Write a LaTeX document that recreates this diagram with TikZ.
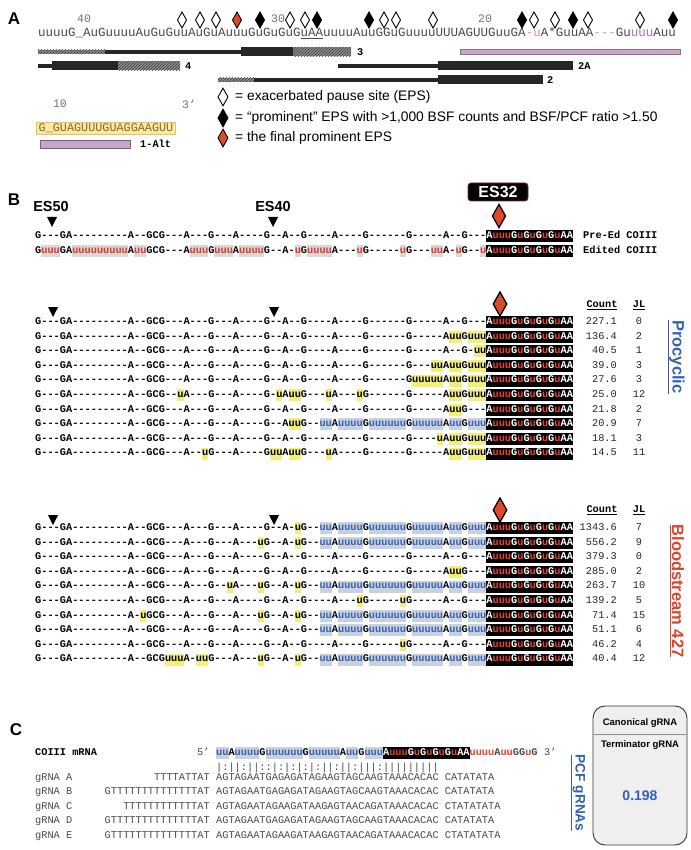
\documentclass[tikz,border=0pt]{standalone}
\usepackage{fontspec}
\setmainfont{Liberation Sans}
\newfontfamily\seqfont[Ligatures=TeXOff]{Liberation Mono}
\usetikzlibrary{patterns}
\definecolor{boxred}{HTML}{E8412C}
\definecolor{hlyel}{HTML}{F2EE78}
\definecolor{hlgray}{HTML}{D8D8D8}
\definecolor{bluebg}{HTML}{C9D1DD}
\definecolor{bluetx}{HTML}{3A62B4}
\definecolor{edred}{HTML}{E3362C}
\definecolor{seqgray}{HTML}{4A4A4A}
\definecolor{purpbar}{HTML}{C8A4CA}
\definecolor{purptx}{HTML}{B070B0}
\definecolor{pinktx}{HTML}{D98ACD}
\definecolor{pcblue}{HTML}{3461B0}
\definecolor{bsred}{HTML}{D9452F}
\definecolor{epsred}{HTML}{DC4A2E}
\definecolor{yelbox}{HTML}{FBE8A6}
\definecolor{yelline}{HTML}{E6C35C}
\definecolor{yeltx}{HTML}{7E6E28}
\definecolor{panelgray}{HTML}{EFEFEF}
\newcommand\seqY[1]{{\setlength\fboxsep{0pt}\colorbox{hlyel}{\strut\color{black}#1}}}
\newcommand\seqB[1]{{\setlength\fboxsep{0pt}\colorbox{bluebg}{\strut\color{bluetx}#1}}}
\newcommand\seqE[1]{{\setlength\fboxsep{0pt}\colorbox{hlgray}{\strut\color{edred}#1}}}
\newcommand\seqR[1]{\textcolor{boxred}{#1}}
\newcommand\seqBox{{\setlength\fboxsep{0pt}\colorbox{black}{\strut\color{white}A\seqR{uuu}G\seqR{u}G\seqR{u}G\seqR{u}G\seqR{u}AA}}}
\newcommand\seqBlue{\seqB{uu}A\seqB{uuuu}G\seqB{uuuuuu}G\seqB{uuuuu}A\seqB{uu}G\seqB{uuu}}
\tikzset{
  dmd/.pic={\path[pic actions] (0,-8) -- (4.5,0) -- (0,8) -- (-4.5,0) -- cycle;},
  tridown/.pic={\fill (-5,-5) -- (5,-5) -- (0,5) -- cycle;},
  epso/.style={draw=black,fill=white,line width=0.9},
  epsb/.style={draw=black,fill=black,line width=0.9},
  epsr/.style={draw=black,fill=epsred,line width=0.9},
  hatch/.style={fill=black!45,postaction={pattern=north east lines,pattern color=black!75}},
}
\begin{document}
\begin{tikzpicture}[x=1pt,y=-1pt,
  seqtxt/.style={anchor=base west,inner sep=0pt,font={\seqfont\bfseries\fontsize{10.3}{12}\selectfont}},
  grnatxt/.style={anchor=base west,inner sep=0pt,text=seqgray,font={\seqfont\fontsize{10.3}{12}\selectfont}},
  numtxt/.style={inner sep=0pt,text=black!85,font={\seqfont\fontsize{10.3}{12}\selectfont}},
  hdtxt/.style={inner sep=0pt,font={\seqfont\bfseries\fontsize{10.3}{12}\selectfont}},
  lbl/.style={inner sep=0pt,font={\bfseries\fontsize{17}{20}\selectfont}},
  esl/.style={inner sep=0pt,font={\bfseries\fontsize{14.5}{17}\selectfont}},
  lgd/.style={anchor=west,inner sep=0pt,font={\fontsize{13.8}{16}\selectfont}},
  barlbl/.style={anchor=west,inner sep=0pt,font={\seqfont\bfseries\fontsize{10.3}{12}\selectfont}}]
\fill[white] (0,0) rectangle (690,850);
\useasboundingbox (0,0) rectangle (690,850);

\node[lbl] (pA) at (14,19) {A};
\foreach \x/\n in {84/40,278/30,485/20}
  \node[inner sep=0pt,text=black!55,font={\seqfont\fontsize{11.5}{13}\selectfont}] (num\n) at (\x,19) {\n};
\foreach \x in {182,200,216,290,305,384,396,433,534,555,588,640} \pic[epso] at (\x,20) {dmd};
\foreach \x in {260,317,369,522,573,673} \pic[epsb] at (\x,20) {dmd};
\pic[epsr] at (237,20) {dmd};
\node[anchor=base west,inner sep=0pt,text=seqgray,font={\seqfont\fontsize{12.5}{14}\selectfont}] (topseq) at (38,37)
  {uuuuG\_AuGuuuuAuGuGuuAuGuAuuuGuGuGuG\underline{uAA}uuuuAuuGGuGuuuuUUUAGUUGuuGA\textcolor{pinktx}{-u}A*GuuAA\textcolor{pinktx}{---}Gu\textcolor{purptx}{uuu}Auu};

\fill[hatch] (38,50) rectangle (105,54);
\fill[black!85] (105,50) rectangle (241,54);
\fill[black!85] (241,47.5) rectangle (293,56.5);
\fill[hatch] (293,47.5) rectangle (351,56.5);
\node[barlbl] (b3) at (357,52) {3};
\fill[black!85] (38,64) rectangle (52,68);
\fill[black!85] (52,61.5) rectangle (118,70.5);
\fill[hatch] (118,61.5) rectangle (180,70.5);
\node[barlbl] (b4) at (185,66) {4};
\fill[black!85] (338,64) rectangle (438,68);
\fill[black!85] (438,61.5) rectangle (573,70.5);
\node[barlbl] (b2a) at (578,66) {2A};
\fill[hatch] (218,78) rectangle (254,82);
\fill[black!85] (254,78) rectangle (438,82);
\fill[black!85] (438,75.5) rectangle (543,84.5);
\node[barlbl] (b2) at (547,80) {2};
\filldraw[fill=purpbar,draw=purpbar!70!black,line width=0.5] (460,49.5) rectangle (680,54.5);

\pic[epso,scale=1.1] at (223,97) {dmd};
\pic[epsb,scale=1.1] at (223,118) {dmd};
\pic[epsr,scale=1.1] at (223,138) {dmd};
\node[lgd] (lg1) at (235,97) {= exacerbated pause site (EPS)};
\node[lgd] (lg2) at (235,118) {= “prominent” EPS with >1,000 BSF counts and BSF/PCF ratio >1.50};
\node[lgd] (lg3) at (235,138) {= the final prominent EPS};

\node[inner sep=0pt,text=black!55,font={\seqfont\fontsize{11.5}{13}\selectfont}] (n10) at (60,104) {10};
\node[inner sep=0pt,text=black!55,font={\seqfont\fontsize{11.5}{13}\selectfont}] (n3p) at (189,104) {3’};
\node[fill=yelbox,draw=yelline,line width=0.8,inner xsep=2pt,inner ysep=1.5pt,text=yeltx,
  font={\seqfont\fontsize{11.8}{13}\selectfont}] (alt) at (106,128.5) {G\_GUAGUUUGUAGGAAGUU};
\filldraw[fill=purpbar,draw=purpbar!60!black,line width=0.5] (40,140) rectangle (130,148);
\node[barlbl] (b1alt) at (140,144) {1-Alt};

\node[lbl] (pB) at (14,200) {B};
\node[esl] (es50) at (51,207) {ES50};
\node[esl] (es40) at (273,207) {ES40};
\pic at (52,222) {tridown};
\pic at (273,222) {tridown};
\node[fill=black,draw=bsred!60!black,line width=0.8,rounded corners=3,text=white,minimum width=60,minimum height=18,
  inner sep=0pt,font={\bfseries\fontsize{16}{18}\selectfont}] (es32) at (498,192) {ES32};
\pic[epsr,scale=1.45,line width=1.3] at (499,216) {dmd};
\node[seqtxt] (pre) at (35,238.5) {G---GA---------A--GCG---A---G---A----G--A--G----A----G------G-----A--G---\seqBox};
\node[seqtxt] (edt) at (35,253.5) {G\seqE{uuu}GA\seqE{uuuuuuuuu}A\seqE{uu}GCG---A\seqE{uuu}G\seqE{uuu}A\seqE{uuuu}G--A-\seqE{u}G\seqE{uuuu}A---\seqE{u}G-----\seqE{u}G---\seqE{uu}A-\seqE{u}G--\seqE{u}\seqBox};
\node[seqtxt] (prelbl) at (583,238.5) {Pre-Ed COIII};
\node[seqtxt] (edtlbl) at (583,253.5) {Edited COIII};

\pic at (53,312) {tridown};
\pic at (274,312) {tridown};
\pic[epsr,scale=1.5,line width=1.3] at (500,304) {dmd};
\node[hdtxt] (pccnt) at (602,305) {\underline{Count}};
\node[hdtxt] (pcjl) at (639,305) {\underline{JL}};
\foreach \sq/\cn/\jl [count=\i] in {
  G---GA---------A--GCG---A---G---A----G--A--G----A----G------G-----A--G---/227.1/0,
  G---GA---------A--GCG---A---G---A----G--A--G----A----G------G-----A\seqY{uu}G\seqY{uuu}/136.4/2,
  G---GA---------A--GCG---A---G---A----G--A--G----A----G------G-----A--G-\seqY{uu}/40.5/1,
  G---GA---------A--GCG---A---G---A----G--A--G----A----G------G---\seqY{uu}A\seqY{uu}G\seqY{uuu}/39.0/3,
  G---GA---------A--GCG---A---G---A----G--A--G----A----G------G\seqY{uuuuu}A\seqY{uu}G\seqY{uuu}/27.6/3,
  G---GA---------A--GCG--\seqY{u}A---G---A----G-\seqY{u}A\seqY{uu}G---\seqY{u}A---\seqY{u}G------G-----A\seqY{uu}G\seqY{uuu}/25.0/12,
  G---GA---------A--GCG---A---G---A----G--A--G----A----G------G-----A\seqY{uu}G---/21.8/2,
  G---GA---------A--GCG---A---G---A----G--A\seqY{uu}G--\seqBlue/20.9/7,
  G---GA---------A--GCG---A---G---A----G--A--G----A----G------G----\seqY{u}A\seqY{uu}G\seqY{uuu}/18.1/3,
  G---GA---------A--GCG---A--\seqY{u}G---A----G\seqY{uu}A\seqY{uu}G---\seqY{u}A----G------G-----A\seqY{uu}G\seqY{uuu}/14.5/11} {
  \node[seqtxt] (pc\i) at (35,{324.5+14.6*(\i-1)}) {\sq\seqBox};
  \node[numtxt,anchor=base east] (pcc\i) at (617,{324.5+14.6*(\i-1)}) {\cn};
  \node[numtxt,anchor=base] (pcj\i) at (639,{324.5+14.6*(\i-1)}) {\jl};
}
\node[rotate=-90,inner sep=0pt,text=pcblue,font={\bfseries\fontsize{16.5}{18}\selectfont}] (pclbl) at (676,357) {\underline{Procyclic}};

\pic at (53,520) {tridown};
\pic at (274,520) {tridown};
\pic[epsr,scale=1.5,line width=1.3] at (500,510) {dmd};
\node[hdtxt] (bscnt) at (602,510) {\underline{Count}};
\node[hdtxt] (bsjl) at (639,510) {\underline{JL}};
\foreach \sq/\cn/\jl [count=\i] in {
  G---GA---------A--GCG---A---G---A----G--A-\seqY{u}G--\seqBlue/1343.6/7,
  G---GA---------A--GCG---A---G---A---\seqY{u}G--A-\seqY{u}G--\seqBlue/556.2/9,
  G---GA---------A--GCG---A---G---A----G--A--G----A----G------G-----A--G---/379.3/0,
  G---GA---------A--GCG---A---G---A----G--A--G----A----G------G-----A\seqY{uu}G---/285.0/2,
  G---GA---------A--GCG---A---G--\seqY{u}A---\seqY{u}G--A-\seqY{u}G--\seqBlue/263.7/10,
  G---GA---------A--GCG---A---G---A----G--A--G----A---\seqY{u}G-----\seqY{u}G-----A--G---/139.2/5,
  G---GA---------A-\seqY{u}GCG---A---G---A---\seqY{u}G--A-\seqY{u}G--\seqBlue/71.4/15,
  G---GA---------A--GCG---A---G---A----G--A--G--\seqBlue/51.1/6,
  G---GA---------A--GCG---A---G---A----G--A--G----A----G-----\seqY{u}G-----A--G---/46.2/4,
  G---GA---------A--GCG\seqY{uuu}A-\seqY{uu}G---A---\seqY{u}G--A-\seqY{u}G--\seqBlue/40.4/12} {
  \node[seqtxt] (bs\i) at (35,{530.5+14.6*(\i-1)}) {\sq\seqBox};
  \node[numtxt,anchor=base east] (bsc\i) at (617,{530.5+14.6*(\i-1)}) {\cn};
  \node[numtxt,anchor=base] (bsj\i) at (639,{530.5+14.6*(\i-1)}) {\jl};
}
\node[rotate=-90,inner sep=0pt,text=bsred,font={\bfseries\fontsize{16.5}{18}\selectfont}] (bslbl) at (677,591) {\underline{Bloodstream 427}};

\node[lbl] (pC) at (16,730) {C};
\node[seqtxt] (mrnalbl) at (35,755.5) {COIII mRNA};
\node[grnatxt] (five) at (197,755.5) {5’};
\node[seqtxt] (mrna) at (216,755.5) {\seqBlue\seqBox\seqR{uuuu}{\color{seqgray}A}\seqR{uu}{\color{seqgray}GG}\seqR{u}{\color{seqgray}G}};
\node[grnatxt] (three) at (544,755.5) {3’};
\node[grnatxt] (pairs) at (216,770) {|:||:||::|:|:|:|:||:||:|||:|||||||||};
\foreach \nm/\pf/\cr/\tl [count=\i] in {
  A/TTTTATTAT/AGTAGAATGAGAGATAGAAGTAGCAAGTAAACACAC/CATATATA,
  B/GTTTTTTTTTTTTTTAT/AGTAGAATGAGAGATAGAAGTAGCAAGTAAACACAC/CATATATA,
  C/TTTTTTTTTTTTAT/AGTAGAATAGAAGATAAGAGTAACAGATAAACACAC/CTATATATA,
  D/GTTTTTTTTTTTTTTAT/AGTAGAATGAGAGATAGAAGTAGCAAGTAAACACAC/CATATATA,
  E/GTTTTTTTTTTTTTTAT/AGTAGAATAGAAGATAAGAGTAACAGATAAACACAC/CTATATATA} {
  \node[grnatxt] (gl\i) at (35,{780.5+14.4*(\i-1)}) {gRNA \nm};
  \node[grnatxt,anchor=base east] (gp\i) at (210,{780.5+14.4*(\i-1)}) {\pf};
  \node[grnatxt] (gc\i) at (216,{780.5+14.4*(\i-1)}) {\cr\ \tl};
}
\node[rotate=-90,inner sep=0pt,text=pcblue,font={\bfseries\fontsize{13.7}{16}\selectfont}] (pcflbl) at (578,793) {\underline{PCF gRNAs}};

\draw[fill=panelgray,draw=black!80,line width=0.9,rounded corners=12] (593,706) rectangle (687,845);
\draw[black!45,line width=0.6] (594,734) -- (686,734);
\node[inner sep=0pt,font={\bfseries\fontsize{9.5}{11}\selectfont}] (canon) at (640,723) {Canonical gRNA};
\node[inner sep=0pt,font={\bfseries\fontsize{9.5}{11}\selectfont}] (termin) at (640,745) {Terminator gRNA};
\node[inner sep=0pt,text=pcblue,font={\bfseries\fontsize{14}{16}\selectfont}] (ratio) at (640,796) {0.198};
\end{tikzpicture}
\end{document}
